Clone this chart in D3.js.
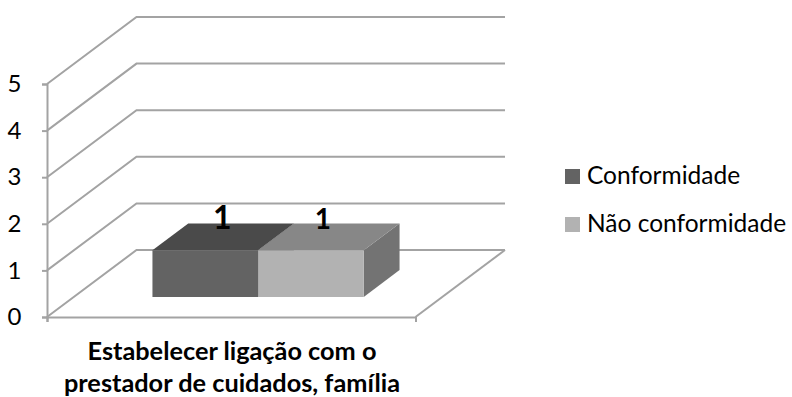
<!DOCTYPE html>
<html>
<head>
<meta charset="utf-8">
<script src="https://cdn.jsdelivr.net/npm/d3@7"></script>
<style>
html,body{margin:0;padding:0;background:#fff}
svg{display:block;font-family:Lato,Carlito,sans-serif}
</style>
</head>
<body>
<svg id="chart" width="792" height="397"></svg>
<script>
const categories = ["Estabelecer ligação com o prestador de cuidados, família"];
const categoryLines = ["Estabelecer ligação com o", "prestador de cuidados, família"];
const seriesNames = ["Conformidade", "Não conformidade"];
const seriesValues = [1, 1];
const valueTicks = [0, 1, 2, 3, 4, 5];
const frontColors = ["#636363", "#b2b2b2"];
const topColors = ["#4a4a4a", "#878787"];
const sideColors = ["#555555", "#737373"];
const labelSizes = [32, 28];
const labelShifts = [17, 12];

const svg = d3.select("#chart");
const gridColor = "#a3a3a3";

// Oblique projection: floor x, height value and depth (0 front, 1 back) map to the screen.
const x = d3.scaleLinear().domain([0, 1]).range([47, 415.5]);
const y = d3.scaleLinear().domain([0, 5]).range([317, 84]);
const depthX = d3.scaleLinear().domain([0, 1]).range([0, 89.5]);
const depthY = d3.scaleLinear().domain([0, 1]).range([0, -67]);
const project = (fx, v, d) => [fx + depthX(d), y(v) + depthY(d)];
const line = d3.line();

const catBand = d3.scaleBand().domain(categories).range([x(0), x(1)]);
const seriesBand = d3.scaleBand().domain(seriesNames)
  .range([catBand(categories[0]) + catBand.bandwidth() * 0.2133,
          catBand(categories[0]) + catBand.bandwidth() * 0.7867]);
const barDepth = [0.3, 0.7];

// Walls and floor
const walls = svg.append("g").attr("fill", "none").attr("stroke", gridColor).attr("stroke-width", 2);
valueTicks.forEach(v => {
  walls.append("path").attr("d", line([project(x(0), v, 0), project(x(0), v, 1), project(x(1), v, 1)]));
});
walls.append("path").attr("d", line([project(x(1), 0, 1), project(x(1), 0, 0)]));

// Value axis
const yAxis = svg.append("g").attr("transform", `translate(${x(0)},0)`)
  .call(d3.axisLeft(y).tickValues(valueTicks).tickSize(5).tickPadding(27.5).tickFormat(d3.format("d")));
yAxis.selectAll("path,line").attr("stroke", gridColor).attr("stroke-width", 2);
yAxis.selectAll("text").attr("font-size", 24).attr("fill", "#000").attr("font-family", "Lato,Carlito,sans-serif")
  .attr("text-anchor", "middle");

// Category axis with its end ticks
const xAxis = svg.append("g").attr("transform", `translate(0,${y(0)})`)
  .call(d3.axisBottom(x).tickValues([0, 1]).tickSize(5).tickFormat(""));
xAxis.selectAll("path,line").attr("stroke", gridColor).attr("stroke-width", 2);

// Bars: side, top, then front face
seriesNames.forEach((name, i) => {
  const v = seriesValues[i];
  const x0 = seriesBand(name), x1 = x0 + seriesBand.bandwidth();
  const [d0, d1] = barDepth;
  const g = svg.append("g");
  g.append("path").attr("fill", sideColors[i]).attr("d", line([
    project(x1, 0, d0), project(x1, 0, d1), project(x1, v, d1), project(x1, v, d0)]) + "Z");
  g.append("path").attr("fill", topColors[i]).attr("d", line([
    project(x0, v, d0), project(x1, v, d0), project(x1, v, d1), project(x0, v, d1)]) + "Z");
  g.append("path").attr("fill", frontColors[i]).attr("d", line([
    project(x0, 0, d0), project(x1, 0, d0), project(x1, v, d0), project(x0, v, d0)]) + "Z");
  const c = project((x0 + x1) / 2, v, d0);
  g.append("text").attr("x", c[0] + labelShifts[i]).attr("y", c[1] - 21.5)
    .attr("text-anchor", "middle").attr("font-weight", 700)
    .attr("font-size", labelSizes[i]).attr("fill", "#000").text(v);
});

// Category label
svg.append("text").attr("text-anchor", "middle").attr("font-weight", 700)
  .attr("font-size", 25.3).attr("fill", "#000")
  .selectAll("tspan").data(categoryLines).join("tspan")
  .attr("x", 232).attr("y", (d, i) => 360 + i * 32).text(d => d);

// Legend
const legend = svg.append("g");
const legendY = d3.scalePoint().domain(seriesNames).range([176.5, 224.5]);
seriesNames.forEach((name, i) => {
  legend.append("rect").attr("x", 565).attr("y", legendY(name) - 7.5)
    .attr("width", 15).attr("height", 15).attr("fill", frontColors[i]);
  legend.append("text").attr("x", 587).attr("y", legendY(name) + 7)
    .attr("font-size", 24.5).attr("fill", "#000").text(name);
});
</script>
</body>
</html>
